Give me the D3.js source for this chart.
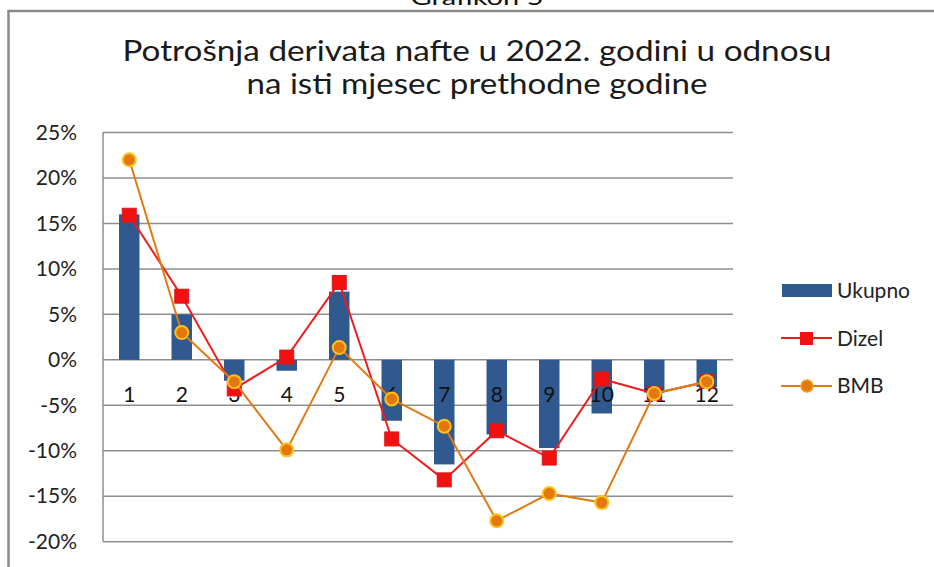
<!DOCTYPE html>
<html>
<head>
<meta charset="utf-8">
<script src="https://cdn.jsdelivr.net/npm/d3@7"></script>
<style>
  body { margin: 0; background: #fff; }
  svg { display: block; }
  text { font-family: Lato, "Open Sans", sans-serif; }
</style>
</head>
<body>
<div id="chart"></div>
<script>
// chart data
const months = ["1", "2", "3", "4", "5", "6", "7", "8", "9", "10", "11", "12"];
const ukupno = [16.0, 5.0, -2.3, -1.2, 7.5, -6.7, -11.5, -8.2, -9.7, -5.9, -3.6, -3.0];
const dizel = [15.9, 7.0, -3.2, 0.3, 8.5, -8.7, -13.2, -7.8, -10.8, -2.1, -3.7, -2.4];
const bmb = [22.0, 3.0, -2.4, -9.9, 1.35, -4.3, -7.3, -17.7, -14.7, -15.7, -3.7, -2.4];
const yTicks = [25, 20, 15, 10, 5, 0, -5, -10, -15, -20];
const titleLines = ["Potrošnja derivata nafte u 2022. godini u odnosu", "na isti mjesec prethodne godine"];

const svgWidth = 934;
const svgHeight = 567;
const plot = { left: 103, right: 733, top: 132.5, bottom: 541.7 };

const barColor = "#30598F";
const dizelColor = "#EE1C1C";
const bmbColor = "#E07A14";
const gridColor = "#8E8E8E";

const svg = d3.select("#chart")
    .append("svg")
    .attr("width", svgWidth)
    .attr("height", svgHeight);

// caption above the frame, mostly cut off at the top edge like in the source
svg.append("text")
    .attr("x", 477)
    .attr("y", 5)
    .attr("text-anchor", "middle")
    .attr("fill", "#111")
    .attr("textLength", 133)
    .attr("lengthAdjust", "spacingAndGlyphs")
    .style("font-size", "21px")
    .text("Grafikon 5");

// outer frame (right and bottom edges fall outside the page)
svg.append("rect")
    .attr("x", 8.5)
    .attr("y", 11)
    .attr("width", 940)
    .attr("height", 600)
    .attr("fill", "none")
    .attr("stroke", "#8a8a8a")
    .attr("stroke-width", 2.5);

// title - the source glyphs are stretched a bit wider than the font
const titleWidths = [709, 461];
svg.append("g").selectAll("text")
    .data(titleLines)
    .join("text")
    .attr("x", 477)
    .attr("y", (d, i) => 61 + i * 33)
    .attr("text-anchor", "middle")
    .attr("fill", "#1a1a1a")
    .attr("textLength", (d, i) => titleWidths[i])
    .attr("lengthAdjust", "spacingAndGlyphs")
    .style("font-size", "29px")
    .text(d => d);

const x = d3.scaleBand()
    .domain(months)
    .range([plot.left, plot.right])
    .padding(0);

const y = d3.scaleLinear()
    .domain([-20, 25])
    .range([plot.bottom, plot.top]);

const barWidth = x.bandwidth() * 0.39;
const cx = m => x(m) + x.bandwidth() / 2;

// gridlines
svg.append("g")
    .selectAll("line")
    .data(yTicks)
    .join("line")
    .attr("x1", plot.left)
    .attr("x2", plot.right)
    .attr("y1", d => y(d))
    .attr("y2", d => y(d))
    .attr("stroke", gridColor)
    .attr("stroke-width", 1.5);

// left edge of the plot area
svg.append("line")
    .attr("x1", plot.left)
    .attr("x2", plot.left)
    .attr("y1", y(25))
    .attr("y2", y(-20))
    .attr("stroke", gridColor)
    .attr("stroke-width", 1.5);

// y axis labels
const yAxis = svg.append("g")
    .attr("transform", `translate(${plot.left - 26},0)`)
    .call(d3.axisLeft(y).tickValues(yTicks).tickSize(0).tickPadding(0).tickFormat(d => d + "%"));
yAxis.select(".domain").remove();
yAxis.selectAll("text")
    .attr("fill", "#222")
    .style("font-family", "Lato, sans-serif")
    .style("font-size", "21px");

// bars
svg.append("g")
    .selectAll("rect")
    .data(ukupno)
    .join("rect")
    .attr("x", (d, i) => cx(months[i]) - barWidth / 2)
    .attr("y", d => y(Math.max(0, d)))
    .attr("width", barWidth)
    .attr("height", d => Math.abs(y(d) - y(0)))
    .attr("fill", barColor);

// category labels just under the zero line
svg.append("g")
    .selectAll("text")
    .data(months)
    .join("text")
    .attr("x", d => cx(d))
    .attr("y", y(0) + 42)
    .attr("text-anchor", "middle")
    .attr("fill", "#111")
    .style("font-size", "21px")
    .text(d => d);

const line = d3.line()
    .x((d, i) => cx(months[i]))
    .y(d => y(d));

// Dizel
svg.append("path")
    .datum(dizel)
    .attr("fill", "none")
    .attr("stroke", dizelColor)
    .attr("stroke-width", 2)
    .attr("d", line);
svg.append("g")
    .selectAll("rect")
    .data(dizel)
    .join("rect")
    .attr("x", (d, i) => cx(months[i]) - 7)
    .attr("y", d => y(d) - 7)
    .attr("width", 14)
    .attr("height", 14)
    .attr("fill", "#F21010")
    .attr("stroke", "#D41A1A")
    .attr("stroke-width", 1);

// BMB
svg.append("path")
    .datum(bmb)
    .attr("fill", "none")
    .attr("stroke", bmbColor)
    .attr("stroke-width", 2)
    .attr("d", line);
svg.append("g")
    .selectAll("circle")
    .data(bmb)
    .join("circle")
    .attr("cx", (d, i) => cx(months[i]))
    .attr("cy", d => y(d))
    .attr("r", 6.5)
    .attr("fill", "#E3780E")
    .attr("stroke", "#FFC21A")
    .attr("stroke-width", 2);

// legend
const legend = svg.append("g");
legend.append("rect")
    .attr("x", 782)
    .attr("y", 284)
    .attr("width", 50)
    .attr("height", 13)
    .attr("fill", barColor);
legend.append("text")
    .attr("x", 837)
    .attr("y", 298)
    .attr("fill", "#222")
    .style("font-size", "21px")
    .text("Ukupno");

legend.append("line")
    .attr("x1", 781).attr("x2", 832)
    .attr("y1", 338).attr("y2", 338)
    .attr("stroke", dizelColor)
    .attr("stroke-width", 2);
legend.append("rect")
    .attr("x", 800).attr("y", 332)
    .attr("width", 13).attr("height", 13)
    .attr("fill", "#F21010");
legend.append("text")
    .attr("x", 837)
    .attr("y", 346)
    .attr("fill", "#222")
    .style("font-size", "21px")
    .text("Dizel");

legend.append("line")
    .attr("x1", 781).attr("x2", 832)
    .attr("y1", 386).attr("y2", 386)
    .attr("stroke", bmbColor)
    .attr("stroke-width", 2);
legend.append("circle")
    .attr("cx", 807).attr("cy", 386)
    .attr("r", 6)
    .attr("fill", "#E3780E")
    .attr("stroke", "#F0A020")
    .attr("stroke-width", 1.5);
legend.append("text")
    .attr("x", 837)
    .attr("y", 393)
    .attr("fill", "#222")
    .style("font-size", "21px")
    .text("BMB");
</script>
</body>
</html>
